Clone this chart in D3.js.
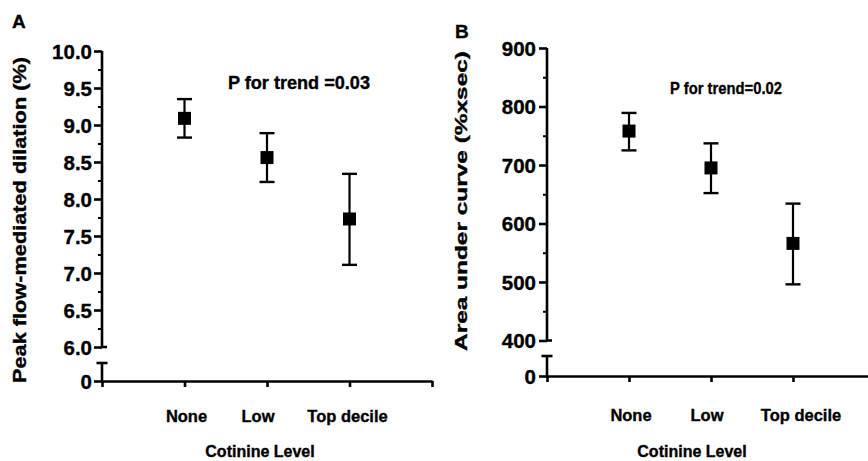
<!DOCTYPE html>
<html>
<head>
<meta charset="utf-8">
<script src="https://cdn.jsdelivr.net/npm/d3@7/dist/d3.min.js"></script>
<style>
  html, body { margin: 0; padding: 0; background: #fff; }
  svg { display: block; }
  text { font-family: "Liberation Sans", Arial, Helvetica, sans-serif; font-weight: bold; fill: #000; stroke: #000; stroke-width: 0.35px; }
</style>
</head>
<body>
<svg id="chart" width="868" height="461"></svg>
<script>
// ---------- data ----------
const categories = ["None", "Low", "Top decile"];

const fmdMean  = [9.09, 8.56, 7.73];
const fmdUpper = [9.35, 8.89, 8.34];
const fmdLower = [8.83, 8.23, 7.11];

const aucMean  = [758, 695, 566];
const aucUpper = [789, 737, 634];
const aucLower = [725, 652, 496];

const fmdMajorTicks = [6.0, 6.5, 7.0, 7.5, 8.0, 8.5, 9.0, 9.5, 10.0];
const fmdMinorTicks = [6.25, 6.75, 7.25, 7.75, 8.25, 8.75, 9.25, 9.75];
const aucMajorTicks = [400, 500, 600, 700, 800, 900];
const aucMinorTicks = [450, 550, 650, 750, 850];

const xTitle = "Cotinine Level";

// ---------- drawing ----------
const svg = d3.select("#chart");

function drawPanel(o) {
  const g = svg.append("g");
  const y = d3.scaleLinear().domain(o.yDomain).range([o.yBreakTop, o.yTop]);
  const yLow = d3.scaleLinear().domain([0, 1]).range([o.yZero, o.yZero - 1]);
  const x = d3.scaleLinear().domain([0, 4]).range([o.xLeft, o.xLeft + 4 * o.xStep]);
  const sw = 2.6;

  // upper y axis segment
  const ax = g.append("g").attr("transform", `translate(${o.xLeft},0)`)
    .call(d3.axisLeft(y).tickValues(o.major).tickFormat(o.fmt).tickSize(8).tickPadding(o.pad));
  ax.select(".domain").attr("d", `M0,${y(o.yDomain[0])}V${y(o.yDomain[1])}`).attr("stroke-width", sw);
  ax.selectAll(".tick line").attr("stroke-width", sw);
  ax.selectAll(".tick text").style("font-size", o.tickFont + "px").attr("dy", "0.36em");
  const axm = g.append("g").attr("transform", `translate(${o.xLeft},0)`)
    .call(d3.axisLeft(y).tickValues(o.minor).tickFormat("").tickSize(4));
  axm.select(".domain").remove();
  axm.selectAll(".tick line").attr("stroke-width", 2);
  // break cap on top segment bottom
  g.append("line").attr("x1", o.xLeft).attr("x2", o.xLeft + 5)
    .attr("y1", y(o.yDomain[0])).attr("y2", y(o.yDomain[0]))
    .attr("stroke", "#000").attr("stroke-width", sw);

  // lower y segment (0)
  const axl = g.append("g").attr("transform", `translate(${o.xLeft},0)`)
    .call(d3.axisLeft(yLow).tickValues([0]).tickFormat(d3.format("d")).tickSize(8).tickPadding(o.pad));
  axl.select(".domain").attr("d", `M0,${o.yZero}V${o.yLowTop}`).attr("stroke-width", sw);
  axl.selectAll(".tick line").attr("stroke-width", sw);
  axl.selectAll(".tick text").style("font-size", o.tickFont + "px").attr("dy", "0.36em");
  g.append("line").attr("x1", o.xLeft - 5.5).attr("x2", o.xLeft + 5.5)
    .attr("y1", o.yLowTop).attr("y2", o.yLowTop)
    .attr("stroke", "#000").attr("stroke-width", sw);

  // x axis
  const xa = g.append("g").attr("transform", `translate(0,${o.yZero})`)
    .call(d3.axisBottom(x).tickValues([0, 1, 2, 3, 4]).tickFormat("").tickSize(6).tickSizeOuter(0));
  xa.select(".domain").attr("stroke-width", sw);
  xa.selectAll(".tick line").attr("stroke-width", sw);

  // category labels
  g.selectAll(".cat").data(categories).join("text")
    .attr("class", "cat")
    .attr("x", (d, i) => x(i + 1) + o.catDx[i])
    .attr("y", o.catY)
    .attr("text-anchor", "middle")
    .style("font-size", o.catFont + "px")
    .text(d => d);

  // x title
  g.append("text").attr("x", o.xTitleX).attr("y", o.xTitleY)
    .attr("text-anchor", "middle").style("font-size", "16px").text(xTitle);

  // y title
  g.append("text")
    .attr("transform", `translate(${o.yTitleX},${o.yTitleY}) rotate(-90)`)
    .attr("text-anchor", "middle")
    .attr("dy", "0.35em")
    .attr("textLength", o.yTitleLen).attr("lengthAdjust", "spacingAndGlyphs")
    .style("font-size", o.yTitleFont + "px")
    .text(o.yTitle);

  // panel letter
  g.append("text").attr("x", o.letterX).attr("y", o.letterY)
    .style("font-size", "19px").text(o.letter);

  // P text
  g.append("text").attr("x", o.pX).attr("y", o.pY)
    .attr("textLength", o.pLen).attr("lengthAdjust", "spacingAndGlyphs")
    .style("font-size", o.pFont + "px").text(o.pText);

  // error bars + markers
  const capW = 15, sq = 13;
  const pts = categories.map((c, i) => ({ i, m: o.mean[i], u: o.upper[i], l: o.lower[i] }));
  const eb = g.selectAll(".eb").data(pts).join("g").attr("class", "eb");
  eb.append("line")
    .attr("x1", d => x(d.i + 1)).attr("x2", d => x(d.i + 1))
    .attr("y1", d => y(d.u)).attr("y2", d => y(d.l))
    .attr("stroke", "#000").attr("stroke-width", 2.2);
  eb.append("line")
    .attr("x1", d => x(d.i + 1) - capW / 2).attr("x2", d => x(d.i + 1) + capW / 2)
    .attr("y1", d => y(d.u)).attr("y2", d => y(d.u))
    .attr("stroke", "#000").attr("stroke-width", 2.4);
  eb.append("line")
    .attr("x1", d => x(d.i + 1) - capW / 2).attr("x2", d => x(d.i + 1) + capW / 2)
    .attr("y1", d => y(d.l)).attr("y2", d => y(d.l))
    .attr("stroke", "#000").attr("stroke-width", 2.4);
  eb.append("rect")
    .attr("x", d => x(d.i + 1) - sq / 2).attr("y", d => y(d.m) - sq / 2)
    .attr("width", sq).attr("height", sq).attr("fill", "#000");
}

drawPanel({
  letter: "A", letterX: 12, letterY: 28,
  yDomain: [6, 10], yTop: 51, yBreakTop: 347, yLowTop: 363, yZero: 381,
  xLeft: 102, xStep: 82.5,
  major: fmdMajorTicks, minor: fmdMinorTicks, fmt: d3.format(".1f"), pad: 2, tickFont: 20.5,
  mean: fmdMean, upper: fmdUpper, lower: fmdLower,
  catY: 422, catFont: 16.5, catDx: [2, -9, -2],
  xTitleX: 260, xTitleY: 457,
  yTitle: "Peak flow-mediated dilation (%)", yTitleX: 20, yTitleY: 220, yTitleLen: 326, yTitleFont: 17.5,
  pText: "P for trend =0.03", pX: 228, pY: 89, pLen: 142, pFont: 18
});

drawPanel({
  letter: "B", letterX: 455, letterY: 38,
  yDomain: [400, 900], yTop: 48, yBreakTop: 340.5, yLowTop: 356, yZero: 376,
  xLeft: 547, xStep: 82,
  major: aucMajorTicks, minor: aucMinorTicks, fmt: d3.format("d"), pad: 3, tickFont: 20.5,
  mean: aucMean, upper: aucUpper, lower: aucLower,
  catY: 421, catFont: 16.5, catDx: [2, -4, 8],
  xTitleX: 692, xTitleY: 457,
  yTitle: "Area under curve (%xsec)", yTitleX: 461, yTitleY: 201, yTitleLen: 300, yTitleFont: 16.5,
  pText: "P for trend=0.02", pX: 670, pY: 94, pLen: 112, pFont: 17
});
</script>
</body>
</html>
